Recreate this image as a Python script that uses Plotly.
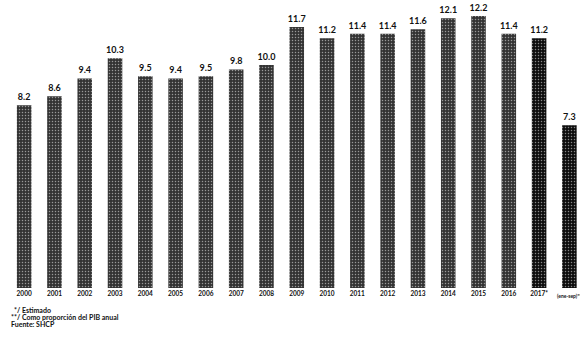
import plotly.graph_objects as go

categories = ["2000", "2001", "2002", "2003", "2004", "2005", "2006", "2007", "2008",
              "2009", "2010", "2011", "2012", "2013", "2014", "2015", "2016",
              "2017*", "(ene-sep)**"]
values = [8.2, 8.6, 9.4, 10.3, 9.5, 9.4, 9.5, 9.8, 10.0,
          11.7, 11.2, 11.4, 11.4, 11.6, 12.1, 12.2, 11.4, 11.2, 7.3]
labels = ["8.2", "8.6", "9.4", "10.3", "9.5", "9.4", "9.5", "9.8", "10.0",
          "11.7", "11.2", "11.4", "11.4", "11.6", "12.1", "12.2", "11.4", "11.2", "7.3"]
footnotes = ["*/ Estimado", "**/ Como proporción del PIB anual", "Fuente: SHCP"]

colors = ["#333333"] * 17 + ["#0d0d0d", "#0d0d0d"]
pattern_fg = ["#b5b5b5"] * 17 + ["#555555", "#555555"]

xpos = list(range(len(categories)))

fig = go.Figure(go.Bar(
    x=xpos,
    y=values,
    text=labels,
    textposition="outside",
    constraintext="none",
    cliponaxis=False,
    textfont=dict(family="Lato", size=9, color="#111111", weight="bold"),
    marker=dict(color=colors, line=dict(width=0),
                pattern=dict(shape=".", fgcolor=pattern_fg, size=3, solidity=0.2)),
    width=0.48,
))

tick_font = dict(family="Lato", size=6.5, color="#111111", weight="bold")

fig.update_layout(
    width=580, height=339,
    margin=dict(l=9, r=0, t=0, b=51),
    paper_bgcolor="white", plot_bgcolor="white",
    showlegend=False,
    xaxis=dict(range=[-0.5, 18.35], tickmode="array",
               tickvals=xpos[:-1], ticktext=categories[:-1],
               showgrid=False, zeroline=False, showline=False, ticks="",
               tickfont=tick_font),
    yaxis=dict(range=[0, 12.915], visible=False),
)

# last category label is long and sits at the right edge: draw it smaller
fig.add_annotation(text=categories[-1], xref="x", yref="paper",
                   x=xpos[-1], y=(288 - 295.5) / 288,
                   xanchor="center", yanchor="middle", showarrow=False,
                   font=dict(family="Lato", size=5, color="#111111", weight="bold"))

foot_x = [12, 9, 9]
foot_y = [309.5, 316.5, 323.5]
for t, fx, fy in zip(footnotes, foot_x, foot_y):
    fig.add_annotation(text=t, xref="paper", yref="paper",
                       x=(fx - 9) / 571, y=(288 - fy) / 288,
                       xanchor="left", yanchor="middle", showarrow=False,
                       font=dict(family="Lato", size=7, color="#111111", weight="bold"))

fig.write_html("out.html", config={"displayModeBar": False},
               post_script="document.body.style.margin='0';")
